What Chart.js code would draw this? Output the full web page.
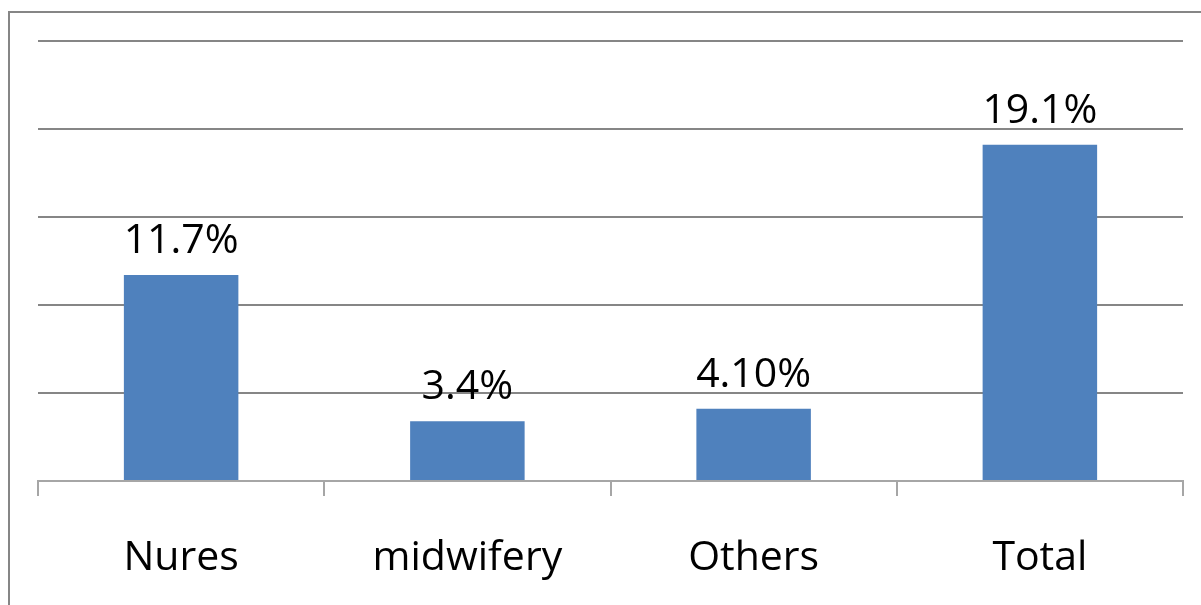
<!DOCTYPE html>
<html>
<head>
<meta charset="utf-8">
<script src="https://cdn.jsdelivr.net/npm/chart.js@4"></script>
<style>
  html, body { margin: 0; padding: 0; background: #fff; overflow: hidden; }
  #wrap { width: 1201px; height: 605px; position: relative; }
</style>
</head>
<body>
<div id="wrap"><canvas id="staffChart" width="1201" height="605"></canvas></div>
<script>
// Share of staff by category
const categories = ['Nures', 'midwifery', 'Others', 'Total'];
const shares = [11.7, 3.4, 4.1, 19.1];
const shareLabels = ['11.7%', '3.4%', '4.10%', '19.1%'];

const labelFont = '41px "Open Sans"';

// gray frame around the whole chart
const framePlugin = {
    id: 'frame',
    beforeDraw(chart) {
        const ctx = chart.ctx;
        ctx.save();
        ctx.strokeStyle = '#868686';
        ctx.lineWidth = 2;
        ctx.strokeRect(9, 12, 1400, 800);
        ctx.restore();
    }
};

// value text above each bar
const valueLabels = {
    id: 'valueLabels',
    afterDatasetsDraw(chart) {
        const ctx = chart.ctx;
        const meta = chart.getDatasetMeta(0);
        ctx.save();
        ctx.font = labelFont;
        ctx.fillStyle = '#000';
        ctx.textAlign = 'center';
        ctx.textBaseline = 'alphabetic';
        meta.data.forEach((bar, i) => {
            ctx.fillText(shareLabels[i], bar.x, bar.y - 22);
        });
        ctx.restore();
    }
};

const ctx = document.getElementById('staffChart').getContext('2d');
new Chart(ctx, {
    type: 'bar',
    data: {
        labels: categories,
        datasets: [{
            data: shares,
            backgroundColor: '#4f81bd',
            categoryPercentage: 1,
            barPercentage: 0.4
        }]
    },
    options: {
        responsive: false,
        animation: false,
        layout: { padding: { left: 38, right: 18, top: 41, bottom: 0 } },
        plugins: {
            legend: { display: false },
            tooltip: { enabled: false }
        },
        scales: {
            x: {
                afterFit(scale) { scale.height = 124; },
                grid: {
                    offset: true,
                    drawOnChartArea: false,
                    color: '#a6a6a6',
                    lineWidth: 2,
                    tickLength: 15
                },
                border: { color: '#a6a6a6', width: 2 },
                ticks: {
                    color: '#000',
                    font: { family: 'Open Sans', size: 41 },
                    padding: 38
                }
            },
            y: {
                min: 0,
                max: 25,
                afterFit(scale) { scale.width = 0; },
                ticks: { display: false, stepSize: 5 },
                grid: { color: '#868686', lineWidth: 2, drawTicks: false },
                border: { display: false }
            }
        }
    },
    plugins: [framePlugin, valueLabels]
});
</script>
</body>
</html>
